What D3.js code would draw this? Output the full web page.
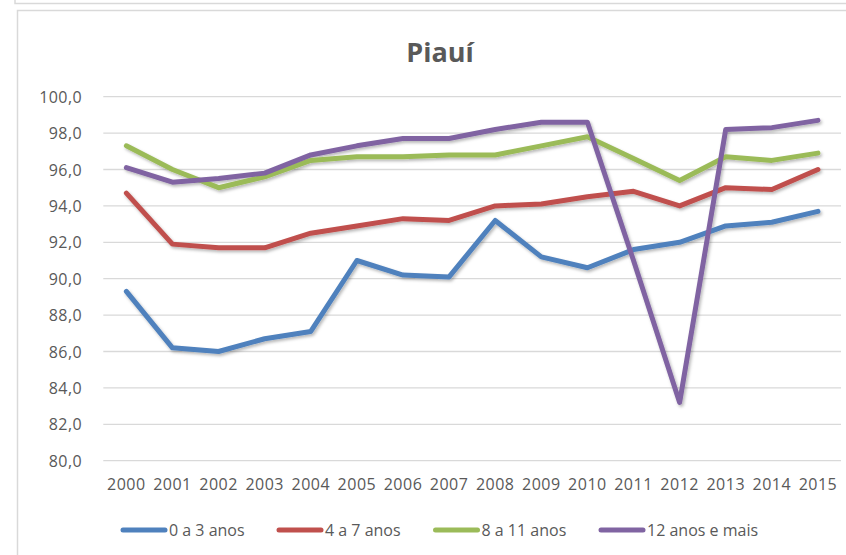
<!DOCTYPE html>
<html><head><meta charset="utf-8">
<script src="https://cdn.jsdelivr.net/npm/d3@7"></script>
<style>body{margin:0;background:#fff;} svg{display:block;}</style>
</head><body>
<script>
const years = ["2000","2001","2002","2003","2004","2005","2006","2007","2008","2009","2010","2011","2012","2013","2014","2015"];
const seriesNames = ["0 a 3 anos","4 a 7 anos","8 a 11 anos","12 anos e mais"];
const s0a3 = [89.3,86.2,86.0,86.7,87.1,91.0,90.2,90.1,93.2,91.2,90.6,91.6,92.0,92.9,93.1,93.7];
const s4a7 = [94.7,91.9,91.7,91.7,92.5,92.9,93.3,93.2,94.0,94.1,94.5,94.8,94.0,95.0,94.9,96.0];
const s8a11 = [97.3,96.0,95.0,95.6,96.5,96.7,96.7,96.8,96.8,97.3,97.8,96.6,95.4,96.7,96.5,96.9];
const s12 = [96.1,95.3,95.5,95.8,96.8,97.3,97.7,97.7,98.2,98.6,98.6,91.0,83.2,98.2,98.3,98.7];
const yTicks = [80,82,84,86,88,90,92,94,96,98,100];
const colors = ["#4f81bd","#c0504d","#9bbb59","#8064a2"];
const allSeries = [s0a3,s4a7,s8a11,s12];

const W=846,H=555;
const svg=d3.select("body").append("svg").attr("width",W).attr("height",H);
const defs=svg.append("defs");
const f=defs.append("filter").attr("id","sh").attr("x","-10%").attr("y","-10%").attr("width","120%").attr("height","120%");
f.append("feDropShadow").attr("dx",1.5).attr("dy",2).attr("stdDeviation",1.6).attr("flood-color","#000").attr("flood-opacity",0.28);

// frames
svg.append("path").attr("d","M15,0 V3.5 H846").attr("fill","none").attr("stroke","#d9d9d9").attr("stroke-width",1.5);
svg.append("path").attr("d","M17.5,560 V10.5 H850").attr("fill","none").attr("stroke","#d9d9d9").attr("stroke-width",1.5);

const font="'Open Sans', sans-serif";
svg.append("text").attr("x",440).attr("y",62).attr("text-anchor","middle")
  .attr("font-family",font).attr("font-weight","bold").attr("font-size",27).attr("fill","#595959").text("Piauí");

const x=d3.scaleBand().domain(years).range([103.3,841]);
const y=d3.scaleLinear().domain([80,100]).range([460.7,96.7]);

// gridlines
svg.append("g").selectAll("line").data(yTicks).join("line")
  .attr("x1",103.3).attr("x2",841).attr("y1",d=>y(d)).attr("y2",d=>y(d))
  .attr("stroke","#d9d9d9").attr("stroke-width",1.3);

// y axis
const yAxis=d3.axisLeft(y).tickValues(yTicks).tickSize(0).tickPadding(0)
  .tickFormat(d=>d3.format(".1f")(d).replace(".",","));
const gy=svg.append("g").attr("transform","translate(82,0)").call(yAxis);
gy.select(".domain").remove();
gy.selectAll("text").attr("font-family",font).attr("font-size",16).attr("fill","#595959").attr("letter-spacing","0.4px").attr("dy","0.35em");

// x axis
const xAxis=d3.axisBottom(x).tickSize(0).tickPadding(0);
const gx=svg.append("g").attr("transform","translate(0,479)").call(xAxis);
gx.select(".domain").remove();
gx.selectAll("text").attr("font-family",font).attr("font-size",16).attr("fill","#595959").attr("letter-spacing","0.5px").attr("dy","0.71em");

// lines
const line=d3.line().x((d,i)=>x(years[i])+x.bandwidth()/2).y(d=>y(d));
svg.append("g").attr("filter","url(#sh)").selectAll("path").data(allSeries).join("path")
  .attr("d",d=>line(d)).attr("fill","none").attr("stroke",(d,i)=>colors[i])
  .attr("stroke-width",5).attr("stroke-linejoin","round").attr("stroke-linecap","round");

// legend
const legX=[121,277,433.5,599];
const lg=svg.append("g").selectAll("g").data(seriesNames).join("g").attr("transform",(d,i)=>`translate(${legX[i]},530)`);
lg.append("line").attr("x1",2).attr("x2",44).attr("y1",0).attr("y2",0)
  .attr("stroke",(d,i)=>colors[i]).attr("stroke-width",5).attr("stroke-linecap","round");
lg.append("text").attr("x",48).attr("y",0).attr("dy","0.35em")
  .attr("font-family",font).attr("font-size",16).attr("fill","#595959").text(d=>d);
</script>
</body></html>
